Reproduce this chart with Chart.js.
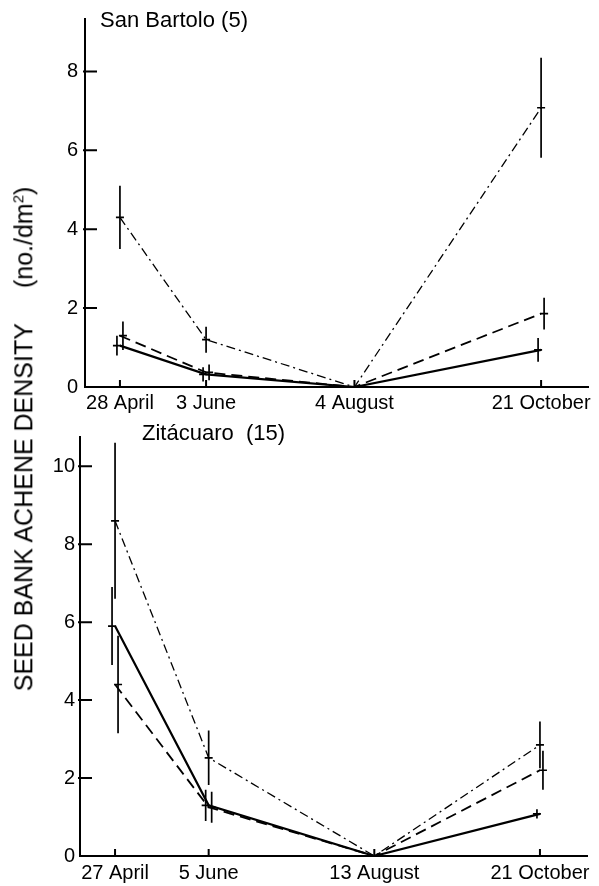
<!DOCTYPE html>
<html>
<head>
<meta charset="utf-8">
<script src="https://cdn.jsdelivr.net/npm/chart.js@4.4.0/dist/chart.umd.min.js"></script>
<style>
body{margin:0;background:#fff;width:599px;height:886px;position:relative;overflow:hidden;font-family:"Liberation Sans",Arial,sans-serif;}
#topChart{position:absolute;left:0;top:0;}
#botChart{position:absolute;left:0;top:420px;}
#ylab{position:absolute;left:24px;top:439px;transform:translate(-50%,-50%) rotate(-90deg);white-space:nowrap;font-size:25px;color:#000;}
#ylab .gap{display:inline-block;width:35px;}
#ylab sup{font-size:15px;}
</style>
</head>
<body>
<canvas id="topChart" width="599" height="420"></canvas>
<canvas id="botChart" width="599" height="466"></canvas>
<div id="ylab">SEED BANK ACHENE DENSITY<span class="gap"></span>(no./dm<sup>2</sup>)</div>
<script>
/* sampling dates (day of year) and their labels */
var topDays = [118, 154, 216, 294];
var topLabels = ["28 April", "3 June", "4 August", "21 October"];
var botDays = [117, 156, 225, 294];
var botLabels = ["27 April", "5 June", "13 August", "21 October"];

/* San Bartolo (5) */
var topSolid = [1.05, 0.32, 0, 0.94];
var topSolidErr = [0.25, 0.18, 0, 0.3];
var topDashed = [1.3, 0.37, 0, 1.86];
var topDashedErr = [0.36, 0.2, 0, 0.4];
var topDashDot = [4.3, 1.2, 0, 7.08];
var topDashDotErr = [0.8, 0.33, 0, 1.27];

/* Zitacuaro (15) */
var botSolid = [5.9, 1.3, 0, 1.08];
var botSolidErr = [1.0, 0.4, 0, 0.12];
var botDashed = [4.4, 1.25, 0, 2.2];
var botDashedErr = [1.25, 0.4, 0, 0.5];
var botDashDot = [8.6, 2.52, 0, 2.85];
var botDashDotErr = [2.0, 0.7, 0, 0.6];

var FONT = "'Liberation Sans', Arial, sans-serif";

function pts(days, vals){
	var out = [];
	for(var i = 0; i < days.length; i++){
		out.push({x: days[i], y: vals[i]});
	}
	return out;
}

function makeSets(days, solid, solidErr, dashed, dashedErr, dashdot, dashdotErr){
	return [
		{data: pts(days, solid), err: solidErr, dodge: -3, borderColor: "#000", borderWidth: 2.2, borderDash: []},
		{data: pts(days, dashed), err: dashedErr, dodge: 3, borderColor: "#000", borderWidth: 1.8, borderDash: [11, 6]},
		{data: pts(days, dashdot), err: dashdotErr, dodge: 0, borderColor: "#000", borderWidth: 1.3, borderDash: [9, 4, 2, 4]}
	];
}

/* error bars + little horizontal marks, inward axis ticks, panel title */
var panelPlugin = {
	id: "panel",
	afterDatasetsDraw: function(chart){
		var ctx = chart.ctx;
		var xs = chart.scales.x, ys = chart.scales.y;
		ctx.save();
		ctx.strokeStyle = "#000";
		ctx.lineWidth = 1.7;
		ctx.setLineDash([]);
		chart.data.datasets.forEach(function(ds){
			ds.data.forEach(function(p, i){
				var e = ds.err[i];
				if(!e){ return; }
				var x = xs.getPixelForValue(p.x) + ds.dodge;
				ctx.beginPath();
				ctx.moveTo(x, ys.getPixelForValue(p.y + e));
				ctx.lineTo(x, ys.getPixelForValue(p.y - e));
				ctx.moveTo(x - 4, ys.getPixelForValue(p.y));
				ctx.lineTo(x + 4, ys.getPixelForValue(p.y));
				ctx.stroke();
			});
		});
		ctx.restore();
	},
	afterDraw: function(chart, args, opts){
		var ctx = chart.ctx;
		var a = chart.chartArea;
		var xs = chart.scales.x, ys = chart.scales.y;
		ctx.save();
		ctx.strokeStyle = "#000";
		ctx.lineWidth = 2;
		ctx.beginPath();
		ys.ticks.forEach(function(t){
			if(t.value === 0){ return; }
			var y = ys.getPixelForValue(t.value);
			ctx.moveTo(a.left - 2, y);
			ctx.lineTo(a.left + 12, y);
		});
		xs.ticks.forEach(function(t){
			var x = xs.getPixelForValue(t.value);
			ctx.moveTo(x, a.bottom);
			ctx.lineTo(x, a.bottom - 7);
		});
		ctx.stroke();
		ctx.fillStyle = "#000";
		ctx.font = "22px " + FONT;
		ctx.textBaseline = "alphabetic";
		ctx.fillText(opts.text, opts.x, opts.y);
		ctx.restore();
	}
};

function buildChart(id, days, labels, sets, opt){
	return new Chart(document.getElementById(id), {
		type: "line",
		data: {datasets: sets},
		plugins: [panelPlugin],
		options: {
			responsive: false,
			animation: false,
			layout: {padding: {top: opt.padTop, right: opt.padRight, left: 0, bottom: 0}},
			elements: {
				point: {radius: 0, hoverRadius: 0},
				line: {tension: 0, fill: false}
			},
			plugins: {
				legend: {display: false},
				tooltip: {enabled: false},
				panel: {text: opt.title, x: opt.titleX, y: opt.titleY}
			},
			scales: {
				x: {
					type: "linear",
					min: opt.xMin,
					max: opt.xMax,
					border: {display: true, color: "#000", width: 2},
					grid: {display: false, drawTicks: false},
					ticks: {
						color: "#000",
						font: {size: 20, family: FONT},
						padding: opt.xPad,
						maxRotation: 0,
						autoSkip: false,
						callback: function(v){ return labels[days.indexOf(v)]; }
					},
					afterBuildTicks: function(s){ s.ticks = days.map(function(v){ return {value: v}; }); },
					afterFit: function(s){ s.height = opt.xHeight; }
				},
				y: {
					min: 0,
					max: opt.yMax,
					border: {display: true, color: "#000", width: 2},
					grid: {display: false, drawTicks: false},
					ticks: {
						color: "#000",
						font: {size: 20, family: FONT},
						padding: opt.yPad
					},
					afterBuildTicks: function(s){ s.ticks = opt.yTicks.map(function(v){ return {value: v}; }); },
					afterFit: function(s){ s.width = opt.yWidth; }
				}
			}
		}
	});
}

buildChart("topChart", topDays, topLabels,
	makeSets(topDays, topSolid, topSolidErr, topDashed, topDashedErr, topDashDot, topDashDotErr),
	{padTop: 10, padRight: 11, xMin: 103.4, xMax: 313.6, xPad: 4, xHeight: 33,
	 yMax: 9.33, yTicks: [0, 2, 4, 6, 8], yPad: 7, yWidth: 85,
	 title: "San Bartolo (5)", titleX: 100, titleY: 27});

buildChart("botChart", botDays, botLabels,
	makeSets(botDays, botSolid, botSolidErr, botDashed, botDashedErr, botDashDot, botDashDotErr),
	{padTop: 5, padRight: 12, xMin: 102.4, xMax: 313.6, xPad: 5, xHeight: 30,
	 yMax: 10.75, yTicks: [0, 2, 4, 6, 8, 10], yPad: 5, yWidth: 80,
	 title: "Zit\u00e1cuaro  (15)", titleX: 142, titleY: 20});
</script>
</body>
</html>
